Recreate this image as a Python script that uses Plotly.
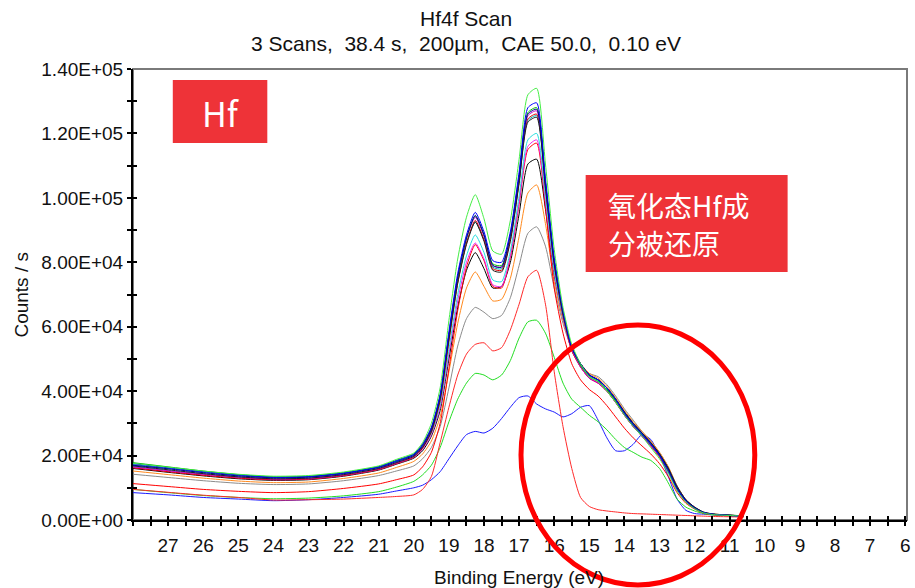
import plotly.graph_objects as go

# Binding energy grid (eV) shared by every spectrum
energy = [28.0, 27.0, 26.0, 25.0, 24.0, 23.0, 22.0, 21.0, 20.5, 20.0,
          19.75, 19.5, 19.25, 19.0, 18.75, 18.5, 18.25, 18.0, 17.75, 17.5,
          17.25, 17.0, 16.75, 16.5, 16.25, 16.0, 15.75, 15.5, 15.25, 15.0,
          14.75, 14.5, 14.25, 14.0, 13.75, 13.5, 13.25, 13.0, 12.75, 12.5,
          12.25, 12.0, 11.75, 11.5, 11.0, 10.6]

# Intensities in units of 1e3 counts/s
scan_blue = [17.5, 16.2, 15.0, 14.0, 13.3, 13.5, 14.6, 16.5, 18.4, 20.4, 23.5, 28.8, 39.0, 58.5, 76.5, 88.5, 95.5, 89.5, 80.5, 80.0, 89.5, 108.0, 128.0, 129.5, 106.0, 81.5, 65.0, 53.5, 48.5, 45.0, 43.5, 41.0, 37.5, 33.0, 29.5, 26.5, 23.5, 20.0, 15.0, 9.5, 5.8, 3.6, 2.3, 1.8, 1.4, 1.2]
scan_black = [16.8, 15.6, 14.4, 13.4, 12.8, 13.0, 14.1, 16.0, 17.8, 19.8, 22.5, 27.5, 37.5, 56.0, 73.5, 85.5, 92.5, 86.5, 77.5, 77.0, 86.5, 104.5, 123.5, 125.0, 103.0, 79.5, 64.0, 53.5, 48.5, 45.0, 43.5, 41.0, 37.5, 33.5, 30.0, 27.0, 24.0, 20.5, 16.0, 10.5, 6.3, 4.0, 2.5, 1.9, 1.5, 1.2]
scan_magenta = [16.5, 15.3, 14.2, 13.3, 12.7, 12.9, 14.0, 15.9, 17.7, 19.7, 22.8, 28.0, 38.5, 57.5, 75.5, 87.5, 94.0, 88.0, 79.0, 78.5, 88.5, 107.0, 125.5, 127.0, 104.5, 80.5, 64.5, 53.0, 47.5, 44.0, 42.5, 40.0, 36.5, 32.5, 29.0, 26.0, 23.0, 19.8, 15.3, 9.8, 6.0, 3.8, 2.3, 1.8, 1.4, 1.2]
scan_green = [17.8, 16.5, 15.2, 14.1, 13.4, 13.6, 14.7, 16.6, 18.5, 20.5, 23.5, 28.5, 38.5, 57.0, 75.0, 87.5, 94.5, 88.5, 79.5, 79.0, 88.5, 106.5, 126.5, 128.0, 105.0, 80.5, 64.5, 53.5, 48.0, 44.5, 43.0, 40.5, 37.0, 33.0, 29.5, 26.5, 23.5, 20.0, 15.5, 9.8, 6.0, 3.8, 2.3, 1.8, 1.5, 1.3]
scan_red = [16.2, 15.0, 13.9, 13.0, 12.5, 12.7, 13.8, 15.7, 17.5, 19.5, 22.3, 27.3, 37.0, 55.5, 73.5, 86.0, 93.0, 87.0, 78.0, 77.5, 87.0, 105.0, 124.5, 126.0, 103.5, 79.5, 63.5, 52.5, 47.5, 44.0, 42.5, 40.0, 36.5, 32.5, 29.0, 26.0, 23.0, 19.5, 15.0, 9.5, 5.8, 3.6, 2.2, 1.7, 1.4, 1.2]
scan_teal = [17.2, 16.0, 14.8, 13.8, 13.2, 13.4, 14.5, 16.4, 18.2, 20.2, 23.2, 28.3, 38.0, 56.5, 74.0, 86.0, 92.5, 87.0, 78.5, 78.0, 87.5, 105.0, 124.0, 125.5, 103.0, 79.0, 63.5, 53.0, 48.0, 44.5, 43.0, 40.5, 37.0, 33.0, 29.5, 26.5, 23.3, 20.0, 15.5, 9.8, 6.0, 3.8, 2.3, 1.8, 1.4, 1.2]
scan_navy = [17.0, 15.9, 14.7, 13.7, 13.1, 13.3, 14.4, 16.3, 18.1, 20.1, 23.0, 28.2, 38.5, 57.5, 75.5, 87.5, 94.5, 88.5, 79.0, 78.5, 88.5, 106.5, 126.0, 127.5, 104.5, 80.5, 64.5, 53.5, 48.5, 45.0, 43.5, 41.0, 37.5, 33.5, 30.0, 27.0, 23.8, 20.3, 15.8, 10.0, 6.2, 3.9, 2.4, 1.8, 1.5, 1.2]
scan_lime = [17.6, 16.4, 15.2, 14.2, 13.6, 13.8, 14.9, 16.8, 18.8, 20.8, 24.0, 30.0, 41.0, 62.0, 81.0, 94.0, 101.0, 93.5, 83.5, 82.5, 93.0, 112.0, 132.0, 134.0, 110.5, 84.0, 66.0, 54.5, 48.5, 44.5, 43.0, 40.0, 36.5, 32.5, 29.0, 26.0, 22.5, 19.0, 14.5, 9.0, 5.5, 3.5, 2.2, 1.7, 1.4, 1.2]
scan_cyan = [16.6, 15.4, 14.3, 13.4, 12.8, 13.0, 14.1, 16.0, 17.8, 19.8, 22.5, 27.0, 36.0, 53.0, 70.0, 82.0, 88.5, 83.0, 74.5, 74.0, 83.5, 100.5, 118.0, 120.0, 100.5, 77.5, 63.0, 53.0, 48.0, 44.5, 43.0, 40.5, 37.0, 33.0, 29.5, 26.5, 23.5, 20.0, 15.5, 9.8, 6.0, 3.8, 2.3, 1.8, 1.4, 1.2]
scan_pink = [16.3, 15.1, 14.0, 13.1, 12.5, 12.7, 13.8, 15.7, 17.5, 19.5, 22.0, 26.5, 35.0, 51.5, 68.0, 80.0, 86.0, 81.0, 73.0, 72.5, 82.0, 98.5, 116.0, 118.0, 99.0, 76.5, 62.5, 52.5, 47.5, 44.0, 42.5, 40.0, 36.5, 32.5, 29.0, 26.0, 23.0, 19.8, 15.3, 9.6, 5.9, 3.7, 2.3, 1.8, 1.4, 1.2]
scan_red_hi = [11.3, 10.4, 9.5, 8.9, 8.5, 8.8, 9.8, 11.2, 12.5, 14.0, 16.5, 21.0, 30.0, 47.0, 65.0, 78.5, 85.5, 80.5, 72.5, 72.0, 81.5, 98.0, 115.0, 117.0, 97.0, 72.0, 58.0, 48.5, 43.5, 40.5, 38.5, 35.5, 32.0, 28.5, 25.5, 23.0, 20.5, 17.5, 13.5, 8.5, 5.2, 3.4, 2.1, 1.7, 1.3, 1.1]
scan_black_lo = [16.0, 14.8, 13.7, 12.8, 12.3, 12.5, 13.6, 15.5, 17.3, 19.2, 21.5, 26.0, 34.0, 50.0, 66.0, 77.5, 83.0, 78.0, 72.0, 72.5, 80.0, 95.0, 110.5, 112.0, 96.5, 76.0, 63.0, 53.5, 48.5, 45.0, 43.5, 41.0, 37.5, 33.5, 30.0, 27.0, 24.0, 20.5, 16.0, 10.0, 6.0, 3.8, 2.3, 1.8, 1.4, 1.2]
scan_orange = [15.2, 14.1, 13.0, 12.1, 11.6, 11.8, 12.9, 14.6, 16.3, 18.2, 20.5, 24.5, 32.0, 46.0, 61.0, 72.0, 77.0, 72.5, 68.0, 68.5, 75.0, 88.0, 101.5, 104.0, 92.0, 74.0, 62.0, 53.5, 48.5, 45.5, 44.0, 41.5, 38.0, 34.0, 30.5, 27.5, 24.5, 21.0, 16.5, 10.5, 6.3, 4.0, 2.4, 1.9, 1.5, 1.3]
scan_gray = [14.2, 13.2, 12.2, 11.4, 11.0, 11.2, 12.2, 13.8, 15.2, 16.8, 19.0, 22.5, 29.0, 41.0, 54.0, 62.5, 66.0, 64.5, 62.5, 63.5, 69.0, 79.0, 89.0, 91.0, 85.0, 72.0, 61.0, 53.0, 48.5, 45.5, 44.5, 42.0, 38.5, 34.5, 31.0, 27.5, 24.5, 21.0, 16.5, 10.5, 6.3, 4.0, 2.4, 1.9, 1.5, 1.3]
scan_oxide = [9.5, 8.6, 7.7, 7.0, 6.2, 6.3, 6.5, 7.0, 7.3, 7.8, 9.5, 13.5, 24.0, 35.0, 45.0, 51.5, 54.5, 55.0, 52.5, 53.5, 59.0, 67.0, 75.5, 77.5, 67.0, 46.0, 29.0, 16.0, 7.0, 4.2, 3.2, 2.8, 2.5, 2.2, 2.0, 1.9, 1.8, 1.7, 1.6, 1.5, 1.4, 1.3, 1.2, 1.1, 1.0, 0.9]
scan_green_lo = [9.5, 8.5, 7.6, 7.0, 6.6, 6.8, 7.5, 8.8, 10.2, 12.0, 14.0, 17.0, 22.5, 30.5, 37.5, 42.5, 45.5, 45.0, 43.5, 45.0, 49.5, 56.5, 61.5, 62.0, 58.0, 50.5, 42.5, 37.5, 35.0, 32.5, 30.5, 28.0, 25.0, 22.5, 21.0, 19.5, 18.5, 16.0, 11.5, 6.5, 4.0, 2.8, 2.0, 1.6, 1.3, 1.1]
scan_blue_lo = [8.5, 7.8, 7.0, 6.5, 6.0, 6.3, 7.0, 8.0, 9.0, 10.0, 10.8, 12.5, 15.0, 19.0, 23.0, 26.5, 27.5, 27.0, 28.5, 31.5, 35.0, 38.0, 38.5, 36.0, 34.5, 33.5, 32.0, 33.0, 35.0, 35.5, 31.0, 25.5, 21.5, 21.5, 23.5, 26.5, 25.0, 20.0, 13.5, 6.5, 3.0, 2.0, 1.8, 1.6, 1.4, 1.2]

series = [
    (scan_blue_lo, "#1a1aff"),
    (scan_green_lo, "#22dd22"),
    (scan_oxide, "#ff2a2a"),
    (scan_gray, "#8c8c8c"),
    (scan_orange, "#ff8a1e"),
    (scan_black_lo, "#000000"),
    (scan_red_hi, "#ff0000"),
    (scan_pink, "#ee22ee"),
    (scan_cyan, "#22dddd"),
    (scan_teal, "#00b0b0"),
    (scan_red, "#e00000"),
    (scan_magenta, "#cc00cc"),
    (scan_green, "#00bb00"),
    (scan_black, "#202020"),
    (scan_navy, "#000090"),
    (scan_blue, "#0000ff"),
    (scan_lime, "#44ee44"),
]

y_ticks = [0, 20000, 40000, 60000, 80000, 100000, 120000, 140000]
y_labels = ["0.00E+00", "2.00E+04", "4.00E+04", "6.00E+04",
            "8.00E+04", "1.00E+05", "1.20E+05", "1.40E+05"]
x_labels = [27, 26, 25, 24, 23, 22, 21, 20, 19, 18, 17, 16, 15, 14,
            13, 12, 11, 10, 9, 8, 7, 6]

fig = go.Figure()
for vals, col in series:
    fig.add_trace(go.Scatter(
        x=energy, y=[v * 1000 for v in vals], mode="lines",
        line=dict(color=col, width=1, shape="spline", smoothing=0.6),
        showlegend=False, hoverinfo="skip"))

# companion axes carrying the inward half of each tick mark
fig.add_trace(go.Scatter(x=[], y=[], xaxis="x2", yaxis="y2",
                         showlegend=False, hoverinfo="skip"))

# tick positions every 0.5 eV, labels only on whole eV
x_tickvals = []
x_ticktext = []
for i in range(0, 45):
    e = 28.0 - 0.5 * i
    if e < 6:
        break
    x_tickvals.append(e)
    x_ticktext.append(str(int(e)) if (e == int(e) and int(e) in x_labels) else "")
y_tickvals = [k * 10000 for k in range(15)]
y_ticktext = [y_labels[y_ticks.index(v)] if v in y_ticks else "" for v in y_tickvals]

FW, FH = 915, 588
L, R, T, B = 133, 911, 69, 520
XR = [28.0, 5.95]
YR = [0, 140000]

def px(x):
    return (x - L) / (R - L)

def py(y):
    return (B - y) / (B - T)

FAM = "Liberation Sans, Arial, sans-serif"
font_tick = dict(family=FAM, size=19, color="#111111")
font_title = dict(family=FAM, size=21, color="#111111")
font_axis = dict(family=FAM, size=19, color="#111111")

fig.update_layout(
    width=FW, height=FH,
    margin=dict(l=L, r=FW - R, t=T, b=FH - B),
    paper_bgcolor="white", plot_bgcolor="white",
    font=font_tick,
    xaxis=dict(range=XR, tickmode="array", tickvals=x_tickvals, ticktext=x_ticktext,
               ticks="outside", ticklen=4, tickwidth=1.5, tickcolor="black",
               showline=True, linecolor="black", linewidth=2, showgrid=False,
               zeroline=False, tickfont=font_tick, ticklabelstandoff=3,
               ticklabeloverflow="allow"),
    yaxis=dict(range=YR, tickmode="array", tickvals=y_tickvals, ticktext=y_ticktext,
               ticks="outside", ticklen=4, tickwidth=1.5, tickcolor="black",
               showline=True, linecolor="black", linewidth=2, showgrid=False,
               zeroline=False, tickfont=font_tick, ticklabeloverflow="allow"),
    xaxis2=dict(range=XR, overlaying="x", side="bottom", tickmode="array",
                tickvals=x_tickvals, ticks="inside", ticklen=4, tickwidth=1.5,
                tickcolor="black", showticklabels=False, showgrid=False,
                zeroline=False, showline=False),
    yaxis2=dict(range=YR, overlaying="y", side="left", tickmode="array",
                tickvals=y_tickvals, ticks="inside", ticklen=4, tickwidth=1.5,
                tickcolor="black", showticklabels=False, showgrid=False,
                zeroline=False, showline=False),
)

shapes = [
    # plot frame
    dict(type="rect", xref="paper", yref="paper", x0=0, x1=1, y0=0, y1=1,
         line=dict(color="#7a7a7a", width=2), layer="below"),
    # label boxes
    dict(type="rect", xref="paper", yref="paper", x0=px(173), x1=px(268),
         y0=py(143), y1=py(80), fillcolor="#ee3338", line=dict(width=0)),
    dict(type="rect", xref="paper", yref="paper", x0=px(588), x1=px(791),
         y0=py(272), y1=py(175), fillcolor="#ee3338", line=dict(width=0)),
    # highlighted reduced-state region
    dict(type="circle", xref="paper", yref="paper", x0=px(523), x1=px(758),
         y0=py(585), y1=py(325), line=dict(color="#ff0000", width=5)),
]
fig.update_layout(shapes=shapes)

cjk = "Noto Sans CJK SC, Noto Sans, sans-serif"
annotations = [
    dict(text="Hf4f Scan", x=px(468), y=py(18), xref="paper", yref="paper",
         showarrow=False, font=font_title, xanchor="center", yanchor="middle"),
    dict(text="3 Scans,\u00a0 38.4 s,\u00a0 200\u00b5m,\u00a0 CAE 50.0,\u00a0 0.10 eV",
         x=px(468), y=py(43), xref="paper", yref="paper", showarrow=False,
         font=font_title, xanchor="center", yanchor="middle"),
    dict(text="Counts / s", x=px(20), y=py(295), xref="paper", yref="paper",
         showarrow=False, font=font_axis, textangle=-90,
         xanchor="center", yanchor="middle"),
    dict(text="Binding Energy (eV)", x=px(521), y=py(577), xref="paper", yref="paper",
         showarrow=False, font=font_axis, xanchor="center", yanchor="middle"),
    dict(text="Hf", x=px(221), y=py(112), xref="paper", yref="paper",
         showarrow=False, font=dict(family=cjk, size=34, color="white"),
         xanchor="center", yanchor="middle"),
    dict(text="氧化态Hf成", x=px(608), y=py(205), xref="paper", yref="paper",
         showarrow=False, font=dict(family=cjk, size=28, color="white"),
         xanchor="left", yanchor="middle"),
    dict(text="分被还原", x=px(608), y=py(243), xref="paper", yref="paper",
         showarrow=False, font=dict(family=cjk, size=28, color="white"),
         xanchor="left", yanchor="middle"),
]
fig.update_layout(annotations=annotations)

fig.write_html("out.html")
